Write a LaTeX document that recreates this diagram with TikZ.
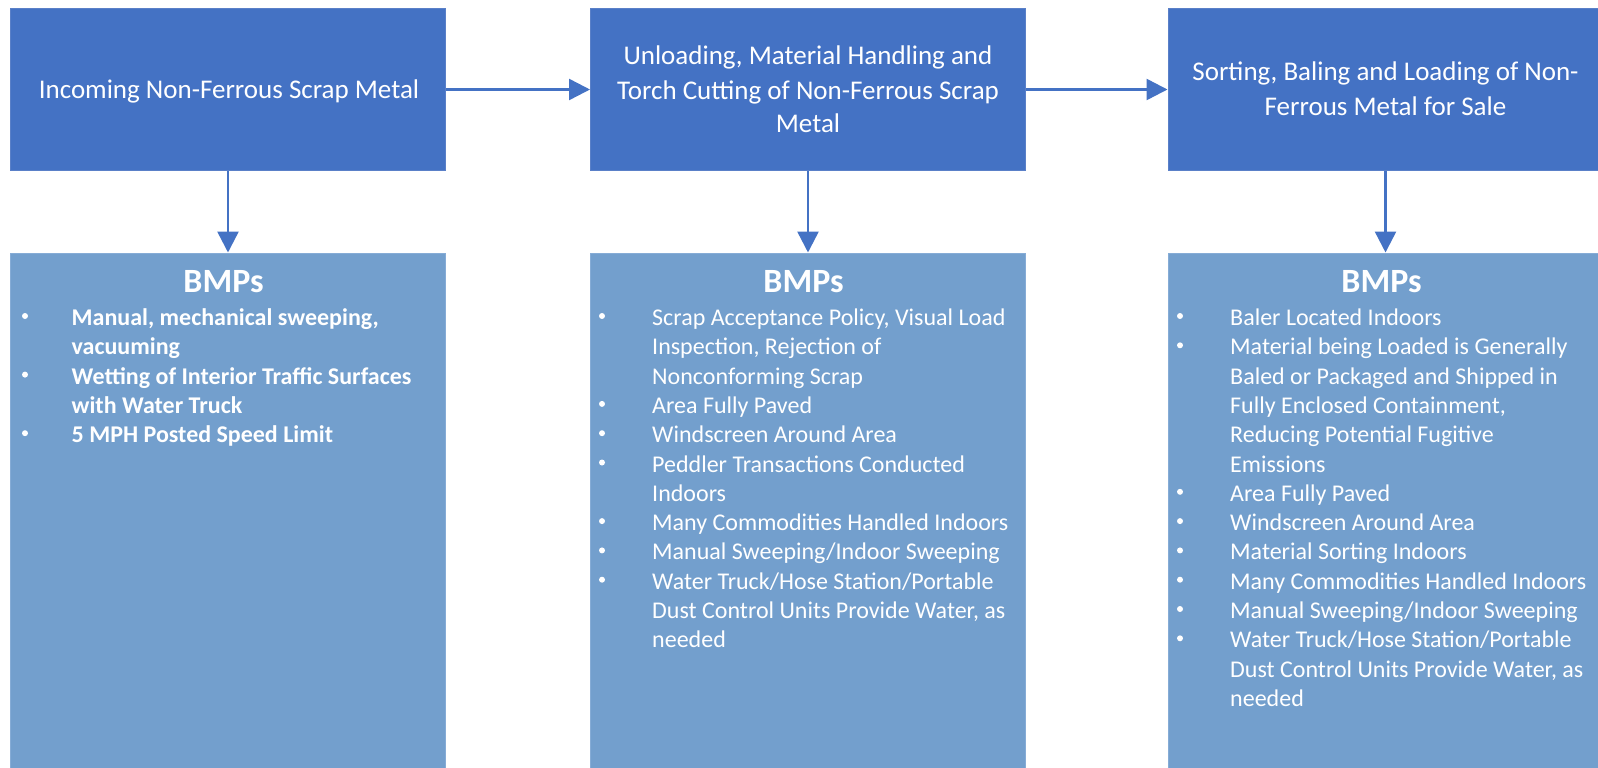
\documentclass[tikz,border=0pt]{standalone}
\usepackage{fontspec}
\setmainfont{Carlito}
\usetikzlibrary{arrows.meta}
\definecolor{topblue}{HTML}{4472C4}
\definecolor{lowblue}{HTML}{739FCD}
\definecolor{topedge}{HTML}{5A80C8}
\definecolor{lowedge}{HTML}{86ACD6}
\begin{document}
\begin{tikzpicture}[x=1pt,y=-1pt,
  topbox/.style={rectangle, fill=topblue, draw=topedge, line width=1pt, inner sep=0pt, minimum width=435pt, minimum height=162pt},
  lowbox/.style={rectangle, fill=lowblue, draw=lowedge, line width=1pt, inner sep=0pt, minimum width=435pt, minimum height=520pt},
  toptext/.style={anchor=base, text=white, font=\fontsize{27}{33}\selectfont, inner sep=0pt},
  bmphead/.style={anchor=base, text=white, font=\fontsize{34}{40}\selectfont\bfseries, inner sep=0pt},
  bmpitem/.style={anchor=base west, text=white, font=\fontsize{24}{29}\selectfont, inner sep=0pt},
  bmpdot/.style={circle, fill=white, inner sep=0pt, minimum size=6pt},
  flowarrow/.style={draw=topblue, line width=2.5pt, -{Triangle[length=21pt,width=21pt]}}
]
\fill[white] (0,0) rectangle (1598,768);
\useasboundingbox (0,0) rectangle (1598,768);

% top boxes
\node[topbox] (t1) at (228,89.5) {};
\node[topbox] (t2) at (808,89.5) {};
\node[topbox] (t3) at (1385.5,89.5) {};
% lower boxes
\node[lowbox] (l1) at (228,513) {};
\node[lowbox] (l2) at (808,513) {};
\node[lowbox] (l3) at (1385.5,513) {};

% connectors
\draw[flowarrow] (t1.east) -- (t2.west);
\draw[flowarrow] (t2.east) -- (t3.west);
\draw[flowarrow] (t1.south) -- (l1.north);
\draw[flowarrow] (t2.south) -- (l2.north);
\draw[flowarrow] (t3.south) -- (l3.north);

% top texts
\node[toptext] (t1x) at (229,99) {Incoming Non-Ferrous Scrap Metal};
\node[toptext] (t2x1) at (808,65) {Unloading, Material Handling and};
\node[toptext] (t2x2) at (808,99.3) {Torch Cutting of Non-Ferrous Scrap};
\node[toptext] (t2x3) at (808,132.5) {Metal};
\node[toptext] (t3x1) at (1385.5,81) {Sorting, Baling and Loading of Non-};
\node[toptext] (t3x2) at (1385.5,115) {Ferrous Metal for Sale};

% headings
\node[bmphead] (h1) at (223.5,292) {BMPs};
\node[bmphead] (h2) at (803.5,292) {BMPs};
\node[bmphead] (h3) at (1381.5,292) {BMPs};

% box 1 items
\foreach \b/\t [count=\i from 0] in {
  1/{Manual, mechanical sweeping,},
  0/{vacuuming},
  1/{Wetting of Interior Traffic Surfaces},
  0/{with Water Truck},
  1/{5 MPH Posted Speed Limit}}{
  \pgfmathsetmacro\yy{325.5+29.3*\i}
  \node[bmpitem, font=\fontsize{24}{29}\selectfont\bfseries] (a\i) at (71.5,\yy) {\t};
  \ifnum\b=1 \node[bmpdot] (ad\i) at (25,\yy-9.5) {};\fi
}

% box 2 items
\foreach \b/\t [count=\i from 0] in {
  1/{Scrap Acceptance Policy, Visual Load},
  0/{Inspection, Rejection of},
  0/{Nonconforming Scrap},
  1/{Area Fully Paved},
  1/{Windscreen Around Area},
  1/{Peddler Transactions Conducted},
  0/{Indoors},
  1/{Many Commodities Handled Indoors},
  1/{Manual Sweeping/Indoor Sweeping},
  1/{Water Truck/Hose Station/Portable},
  0/{Dust Control Units Provide Water, as},
  0/{needed}}{
  \pgfmathsetmacro\yy{325.5+29.3*\i}
  \node[bmpitem] (m\i) at (652,\yy) {\t};
  \ifnum\b=1 \node[bmpdot] (md\i) at (602,\yy-9.5) {};\fi
}

% box 3 items
\foreach \b/\t [count=\i from 0] in {
  1/{Baler Located Indoors},
  1/{Material being Loaded is Generally},
  0/{Baled or Packaged and Shipped in},
  0/{Fully Enclosed Containment,},
  0/{Reducing Potential Fugitive},
  0/{Emissions},
  1/{Area Fully Paved},
  1/{Windscreen Around Area},
  1/{Material Sorting Indoors},
  1/{Many Commodities Handled Indoors},
  1/{Manual Sweeping/Indoor Sweeping},
  1/{Water Truck/Hose Station/Portable},
  0/{Dust Control Units Provide Water, as},
  0/{needed}}{
  \pgfmathsetmacro\yy{325.5+29.3*\i}
  \node[bmpitem] (r\i) at (1230,\yy) {\t};
  \ifnum\b=1 \node[bmpdot] (rd\i) at (1180,\yy-9.5) {};\fi
}
\end{tikzpicture}
\end{document}
